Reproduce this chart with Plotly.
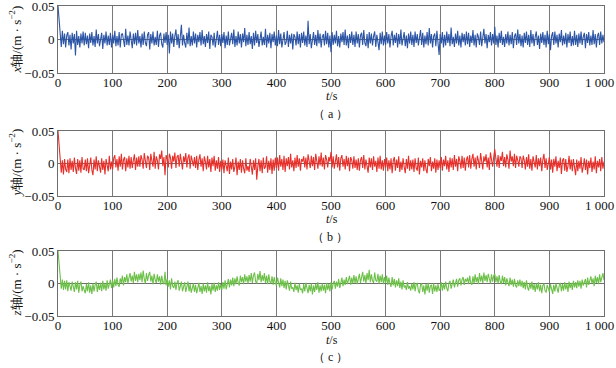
import plotly.graph_objects as go

x_axis_acc = [
    50, 28, 4, -11, 13, -7, 9, -12, 6, 11, -9, 7, -15, 10, -6, 8, -24, 13, -8, 5, -12, 9, -6, 12, -9,
    10, -7, 6, -13, 9, -5, 11, -9, 5, -11, 15, -6, 8, -10, 4, 10, -14, 7, -6, 12, -9, 6, -8, 10, -12,
    7, -6, 13, -10, 5, -9, 11, -12, 7, 9, -5, -11, 16, -8, 6, -9, 12, -4, -13, 9, -7, 10, -9, 14, -6,
    5, -12, 9, -8, 12, -5, -10, 7, 11, -15, 8, -6, 12, -9, 4, -8, 13, -11, 6, 10, -7, -12, 9, -5, 11,
    -8, 7, -21, 12, -6, 9, -11, 5, 15, -8, 8, -13, 6, 22, -9, 7, -5, -12, 10, -7, 18, -10, 5, -9, 12,
    -6, 9, -12, 7, -4, 11, -9, 14, -7, 5, -11, 8, -5, 12, -14, 7, 4, -9, 10, -12, 6, 13, -8, 7, -10,
    8, -5, 11, -13, 6, -8, 12, -9, 4, 10, -7, 15, -11, 5, -9, 12, -6, 8, -12, 9, -4, 17, -10, 7, -8,
    11, -7, 5, -14, 10, -9, 13, -5, 8, -11, 6, 12, -9, 4, -8, 16, -12, 7, -6, 10, -13, 8, -4, 12, -9,
    6, -10, 14, -7, 9, -12, 5, 11, -8, -4, 13, -11, 7, -6, 9, -15, 8, 4, -9, 12, -7, 8, -12, 10, -5,
    12, -9, 6, -11, 28, -7, 8, -13, 5, 11, -8, 7, -10, 14, -6, 9, -12, 4, 8, -9, 13, -7, 10, -12, 6,
    -19, 11, -8, 7, -6, 13, -10, 5, -12, 9, -4, 11, -8, 15, -9, 6, -13, 8, -5, 12, -8, 7, -11, 12, -6,
    8, -12, 6, 10, -8, 14, -5, -10, 8, -13, 11, -6, 9, -9, 5, 12, -11, 7, -4, -16, 10, -7, 12, -9, 6,
    -8, 11, -6, 8, -12, 5, 13, -9, 7, -5, 10, -12, 8, -7, 15, -9, 4, 11, -10, 6, -13, 9, -6, 12, -8,
    7, -11, 12, -5, 8, -9, 4, 14, -8, 10, -12, 6, -7, 11, -9, 17, -6, 8, -12, 5, 9, -10, 13, -7, -23,
    8, -6, 11, -12, 7, -9, 12, -5, 8, -10, 18, -7, 4, -11, 9, -6, 13, -9, 6, -12, 10, -4, 8, -9, 12,
    -7, 10, -11, 6, -5, 14, -9, 7, -12, 9, 4, -8, 12, -10, 5, 16, -6, 8, -13, 7, -4, 11, -9, 8, -6,
    19, -8, 6, -12, 10, -5, 13, -8, 4, -11, 8, -6, 12, -9, 7, -7, 11, -13, 5, 9, -8, 15, -6, 8, -10,
    6, -12, 10, -5, 12, -8, 7, -11, 14, -6, 8, -10, 4, 12, -8, 6, -14, 9, -5, 11, -8, 7, -12, 13, -7,
    8, -16, 5, 11, -8, 12, -6, 7, -12, 9, -4, 14, -9, 6, -7, 10, -12, 8, -5, 12, -10, 5, -9, 13, -8,
    7, -11, 9, -6, 12, -8, 4, 10, -13, 8, -5, 11, -9, 6, -8, 14, -7, 8, -12, 5, 10, -8, 12, -6, 7,
    -4,
]
y_axis_acc = [
    50, 32, 6, -14, 5, -17, 7, -9, -13, 6, -15, 8, -10, 4, -13, 9, -7, -16, 7, -11, 5, -14, 10, -8, -10,
    6, -12, 8, -15, 3, 9, -10, -18, 6, -9, 11, -12, 5, -7, -14, 8, -10, 4, -17, 7, -6, -12, 12, -9, 3,
    -9, 8, 13, -6, 7, -11, 11, -5, 15, -9, 6, 10, -12, 8, -6, 12, -8, 10, -7, 5, 14, -10, 9, -5, 11,
    -5, 13, 6, -8, 16, 3, -7, 12, 9, -10, 15, 4, -5, 18, -8, 11, 5, -9, 14, 7, 20, -4, 10, -18, 13,
    7, -6, 15, 9, -8, 12, 3, 17, -7, 10, 13, -5, 15, 6, -9, 11, 2, 16, -6, 9, 14, -8, 12, 4, -4,
    10, -7, 12, -10, 6, 14, -5, 8, -12, 11, 3, -9, 12, -6, 7, -13, 9, -4, 12, -11, 5, -8, 10, -13, 4,
    -9, 6, -15, 5, -7, -12, 9, -16, 3, -9, 7, -13, -5, 9, -18, 3, -10, 7, -14, 5, -8, -15, 8, -11, -4,
    -13, 7, -6, -17, 5, -10, 8, -25, -4, 7, -12, 5, -15, 9, -8, -5, 11, -14, 4, -10, 8, -16, 6, -11, 9,
    -7, 9, -11, 13, -5, 7, -10, 12, -13, 8, -4, 10, -9, 15, -6, 5, -12, 9, -7, 13, -5, 8, -11, 7, 3,
    11, -6, 9, -9, 14, 4, -7, 12, -4, 10, -10, 15, 5, -8, 11, -3, 17, -5, 9, -9, 13, 6, -6, 10, 3,
    18, -6, 11, -8, 6, 14, -6, 10, -11, 8, 13, -5, 7, -9, 12, -4, 9, -12, 10, 5, -8, 11, -7, 6, -10,
    8, -11, 5, 10, -7, 13, -9, 6, -4, -14, 9, -6, 8, -10, 11, -5, 4, -13, 9, -8, 12, -9, 5, -11, 7,
    -6, 9, -12, 5, -9, 8, -15, 4, 10, -11, 6, -7, 11, -13, 3, -10, 8, -5, -15, 7, -8, 12, -11, 5, -9,
    6, -13, 8, -7, -11, 9, -17, 4, -6, 8, -12, 5, -9, -15, 7, -4, 10, -12, 3, -8, 8, -14, 6, -10, 5,
    -7, 10, -11, 6, -4, 12, -9, 5, -13, 9, -6, 8, -10, 13, -5, 7, -12, 11, 4, -8, 12, -7, 9, -11, 6,
    11, -6, 13, -8, 7, 15, -5, 9, -9, 12, 4, -7, 16, 6, -9, 11, 3, 14, -6, 9, -10, 17, 5, -5, 10,
    22, 7, -5, 13, -7, 11, 4, 18, -4, 10, -6, 14, 6, -8, 20, 3, 11, -4, 15, -7, 12, 5, -5, 11, 8,
    -7, 12, 5, -9, 10, -5, 14, -8, 7, -11, 11, 4, -6, 13, -9, 8, -4, 9, -12, 6, 15, -7, 8, -10, 5,
    10, -9, 6, -14, 7, -5, 11, -12, 4, -7, 9, -16, 5, 8, -11, 7, -13, -4, 12, -9, 6, -12, 7, -6, -18,
    6, -12, 4, -8, 10, -14, -5, 8, -10, 6, -17, 4, -7, 9, -13, 3, -9, 11, -15, 4, -6, 7, -12, 10, -8,
    3,
]
z_axis_acc = [
    50, 26, 7, -8, 6, -10, 4, -9, 5, -12, 2, -7, -11, 3, -8, -13, 2, -9, 4, -14, -2, 3, -12, -4, -10,
    -15, -1, -12, 2, -14, -3, -16, 0, -12, -2, 3, -13, -1, -10, 1, -12, 4, -9, 0, -11, 5, -8, 2, 6, -7,
    5, -6, 7, -4, 9, -2, -5, 8, 1, 12, -3, 10, 2, 14, 0, 9, 16, 3, 12, 1, 18, 4, 14, 2, 15,
    5, 17, 2, 20, 7, 0, 16, 4, 13, 18, 3, 12, -1, 15, 6, 1, 14, 3, 11, -2, 12, 2, -1, 18, -3,
    7, -5, 5, -9, 8, -4, -7, 3, -10, 1, 5, -11, -2, 3, -12, -3, 2, -13, -4, 3, -12, -1, -14, -5, 0,
    -13, -2, -15, -4, 1, -13, -4, -16, 0, -12, -3, -14, 2, -12, -4, -17, -1, -11, 1, -13, -3, -11, 2, -10, -1,
    -10, 2, -8, 5, -9, 1, 7, -6, 6, -3, 9, -4, 8, -1, 11, 1, -3, 12, 2, 10, -1, 14, 3, 11, 0,
    13, 3, 16, 1, 12, 17, 3, 0, 15, 5, 19, 2, 13, 4, 16, 1, 12, -1, 14, 3, 0, 11, -2, 10, 1,
    -3, 9, -1, -6, 8, -4, 6, -7, 4, -9, 5, -5, -11, 3, -8, -6, -13, 1, -10, -3, -14, 0, -10, -8, -15,
    -1, -12, 1, -10, -15, -2, -12, 0, -17, -3, -13, -1, -10, 2, -14, -3, -12, 0, -11, -2, -15, 1, -10, -1, -12,
    2, -9, 0, 4, -8, 3, -5, 7, -7, 5, 9, -4, 6, -2, 10, -1, 8, 12, -2, 9, 0, 13, 1, 11, -1,
    10, 15, 1, 12, 18, 3, 13, 0, 16, 5, 21, 2, 14, 4, 1, 17, 5, 3, 15, 0, 12, 2, 14, -1, 10,
    1, 12, -2, 9, 0, -5, 10, -3, 7, -6, 5, -4, 8, -7, 3, -9, 5, -6, -3, -10, 2, -8, -4, -11, 0,
    -9, 2, -12, -1, 0, -11, -15, -2, 0, -13, -3, -17, -1, -11, 1, -14, -4, -2, -16, 0, -12, -3, -13, -1, -11,
    -8, 2, -11, 0, -9, 3, -7, -12, 1, 4, -8, 2, 6, -6, 3, 7, -5, 5, 8, -3, 6, 10, -2, 7, 3,
    9, -1, 12, 1, -2, 11, 0, 14, 2, 10, -1, 16, 3, 12, 1, 17, 4, 13, 2, 15, 5, 0, 14, 3, 12,
    15, 2, 11, 0, 13, 3, -1, 12, 1, 10, -3, 8, -1, -4, 9, -2, 6, -5, 7, -3, -6, 5, -4, 6, -5,
    4, -7, 2, -9, 5, -6, -11, 1, -8, 3, -10, -1, -13, 0, -9, 2, -12, -2, -15, -3, 0, -11, -14, -2, -10,
    -13, -1, -11, -16, -2, -12, 0, -10, -14, -3, 1, -12, -1, -11, 2, -9, 0, -13, 3, -7, 1, -10, 4, -6, 2,
    -7, 5, -5, 4, -8, 6, -3, 2, 7, -6, 9, -2, 5, 11, 0, 8, -4, 12, 1, 10, -1, 14, 2, 11, 16,
    5,
]

x_ticks = [0, 100, 200, 300, 400, 500, 600, 700, 800, 900, 1000]
x_tick_labels = ["0", "100", "200", "300", "400", "500", "600", "700", "800", "900", "1 000"]
y_ticks = [-50, 0, 50]
y_tick_labels = ["\u22120.05", "0", "0.05"]

series = [
    (x_axis_acc, "#2c55a6", "<i>x</i>轴/(m · s<sup>−2</sup>)", "（ a ）"),
    (y_axis_acc, "#e8302b", "<i>y</i>轴/(m · s<sup>−2</sup>)", "（ b ）"),
    (z_axis_acc, "#6cc048", "<i>z</i>轴/(m · s<sup>−2</sup>)", "（ c ）"),
]

W, H = 616, 368
panels_px = [(6, 73), (131, 196), (251, 316)]
x_dom = [58 / W, 604 / W]
FONT = "Liberation Serif, DejaVu Serif, serif"

fig = go.Figure()
annotations = []
layout_axes = {}
for i, ((vals, color, ylab, sub), (top, bot)) in enumerate(zip(series, panels_px)):
    k = "" if i == 0 else str(i + 1)
    tt = [2 * j for j in range(len(vals))]
    fig.add_trace(go.Scatter(x=tt, y=vals, mode="lines",
                             line=dict(color=color, width=1.1),
                             xaxis="x" + k, yaxis="y" + k, showlegend=False,
                             hoverinfo="skip"))
    ydom = [1 - bot / H, 1 - top / H]
    # the last tick label ("1 000") is placed as a right-aligned annotation so it stays in view
    layout_axes["xaxis" + k] = dict(
        domain=x_dom, anchor="y" + k, range=[0, 1000], tickvals=x_ticks[:-1],
        ticktext=x_tick_labels[:-1], showgrid=True, gridcolor="#7a7a7a", gridwidth=1,
        zeroline=False, showline=True, linecolor="#6e6e6e", linewidth=1, mirror=True,
        ticks="", automargin=False, ticklabelstandoff=-3,
        tickfont=dict(family=FONT, size=13, color="#111"),
    )
    layout_axes["yaxis" + k] = dict(
        domain=ydom, anchor="x" + k, range=[-50, 50], tickvals=y_ticks,
        ticktext=y_tick_labels, showgrid=True, gridcolor="#6e6e6e", gridwidth=1,
        zeroline=False, showline=True, linecolor="#6e6e6e", linewidth=1, mirror=True,
        ticks="", automargin=False, ticklabeloverflow="allow",
        tickfont=dict(family=FONT, size=13, color="#111"),
    )
    annotations.append(dict(text=x_tick_labels[-1], xref="paper", yref="paper",
                            x=615 / W, y=1 - (bot + 9) / H, showarrow=False, borderpad=0,
                            font=dict(family=FONT, size=13, color="#111"),
                            xanchor="right", yanchor="middle"))
    annotations.append(dict(text=ylab, xref="paper", yref="paper", x=15 / W,
                            y=(ydom[0] + ydom[1]) / 2, textangle=-90, showarrow=False,
                            font=dict(family=FONT, size=13, color="#111"),
                            xanchor="center", yanchor="middle"))
    annotations.append(dict(text="<i>t</i>/s", xref="paper", yref="paper",
                            x=332 / W, y=1 - (bot + 23.5) / H, showarrow=False,
                            font=dict(family=FONT, size=12, color="#111"), borderpad=0,
                            xanchor="center", yanchor="middle"))
    annotations.append(dict(text=sub, xref="paper", yref="paper",
                            x=330 / W, y=1 - (bot + 40.5) / H, showarrow=False,
                            font=dict(family=FONT, size=12, color="#111"), borderpad=0,
                            xanchor="center", yanchor="middle"))

fig.update_layout(width=W, height=H, margin=dict(l=0, r=0, t=0, b=0, autoexpand=False),
                  paper_bgcolor="white", plot_bgcolor="white",
                  annotations=annotations, **layout_axes)
fig.write_html("out.html", config={"displayModeBar": False},
               post_script="document.body.style.margin='0';")
